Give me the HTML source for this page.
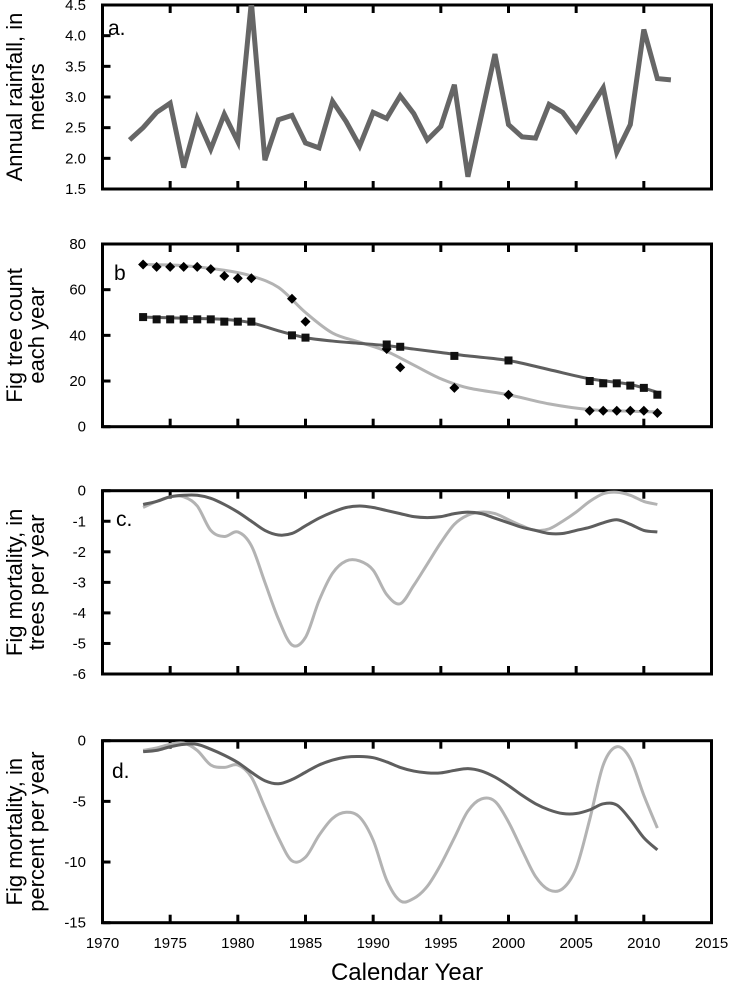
<!DOCTYPE html>
<html><head><meta charset="utf-8"><style>
body{margin:0;background:#fff;}
svg{display:block;font-family:"Liberation Sans",Arial,sans-serif;}
</style></head><body>
<svg id="chart" width="731" height="990"></svg>
<script>
const rainYears=[1972,1973,1974,1975,1976,1977,1978,1979,1980,1981,1982,1983,1984,1985,1986,1987,1988,1989,1990,1991,1992,1993,1994,1995,1996,1997,1998,1999,2000,2001,2002,2003,2004,2005,2006,2007,2008,2009,2010,2011,2012];
const rainValues=[2.3,2.5,2.75,2.9,1.85,2.65,2.15,2.72,2.27,4.55,1.97,2.63,2.7,2.25,2.17,2.93,2.6,2.2,2.75,2.65,3.02,2.73,2.3,2.52,3.2,1.7,2.7,3.7,2.55,2.35,2.33,2.88,2.75,2.45,2.8,3.15,2.1,2.55,4.1,3.3,3.28];
const countYears=[1973,1974,1975,1976,1977,1978,1979,1980,1981,1984,1985,1991,1992,1996,2000,2006,2007,2008,2009,2010,2011];
const diamondCounts=[71,70,70,70,70,69,66,65,65,56,46,34,26,17,14,7,7,7,7,7,6];
const squareCounts=[48,47,47,47,47,47,46,46,46,40,39,36,35,31,29,20,19,19,18,17,14];
const fitYears=[1973,1976,1979,1981,1983,1985,1987,1989,1991,1993,1995,1997,2000,2003,2006,2009,2011];
const diamondFit=[71,70.5,68.5,66,61,50,41,37,33,27,21,17,14,10,7.5,6.8,6.5];
const squareFit=[48,47.5,47,45.5,42,39,37.5,36.5,35.5,34,32.5,31,29,25,21,18.5,15];
const smoothYears=[1973,1974,1975,1976,1977,1978,1979,1980,1981,1982,1983,1984,1985,1986,1987,1988,1989,1990,1991,1992,1993,1994,1995,1996,1997,1998,1999,2000,2001,2002,2003,2004,2005,2006,2007,2008,2009,2010,2011];
const mortTreesDark=[-0.45,-0.35,-0.2,-0.15,-0.15,-0.25,-0.45,-0.7,-1.0,-1.3,-1.45,-1.4,-1.15,-0.9,-0.7,-0.55,-0.5,-0.55,-0.65,-0.75,-0.85,-0.88,-0.85,-0.75,-0.7,-0.75,-0.9,-1.05,-1.2,-1.3,-1.4,-1.4,-1.3,-1.2,-1.05,-0.95,-1.1,-1.3,-1.35];
const mortTreesLight=[-0.55,-0.35,-0.2,-0.2,-0.5,-1.3,-1.5,-1.35,-1.8,-3.0,-4.2,-5.05,-4.8,-3.6,-2.7,-2.3,-2.3,-2.6,-3.4,-3.7,-3.1,-2.4,-1.7,-1.1,-0.8,-0.7,-0.75,-0.95,-1.15,-1.3,-1.25,-1.0,-0.7,-0.35,-0.1,-0.05,-0.15,-0.35,-0.45];
const mortPctDark=[-0.9,-0.8,-0.5,-0.3,-0.3,-0.7,-1.2,-1.8,-2.6,-3.3,-3.55,-3.2,-2.6,-2.0,-1.6,-1.35,-1.3,-1.4,-1.75,-2.2,-2.5,-2.65,-2.65,-2.45,-2.3,-2.5,-3.0,-3.7,-4.5,-5.2,-5.7,-6.0,-6.0,-5.7,-5.2,-5.3,-6.5,-8.0,-9.0];
const mortPctLight=[-0.8,-0.6,-0.3,-0.2,-0.8,-2.0,-2.2,-2.0,-3.0,-5.5,-8.0,-9.9,-9.6,-7.8,-6.4,-5.9,-6.3,-8.2,-11.5,-13.2,-13.0,-12.0,-10.2,-8.0,-5.8,-4.8,-5.0,-6.7,-9.0,-11.2,-12.3,-12.2,-10.5,-6.5,-2.0,-0.5,-1.5,-4.5,-7.2];
const xTicks=[1970,1975,1980,1985,1990,1995,2000,2005,2010,2015];

const NS="http://www.w3.org/2000/svg";
const svg=document.getElementById('chart');
const X0=102.5,X1=711.5;
function sx(y){return X0+(y-1970)/45*(X1-X0);}
function mk(tag,attrs,parent){const e=document.createElementNS(NS,tag);for(const k in attrs)e.setAttribute(k,attrs[k]);(parent||svg).appendChild(e);return e;}
function smoothPath(xs,ys){let d='M'+xs[0]+','+ys[0];for(let i=0;i<xs.length-1;i++){const x0=xs[i-1]??xs[i],y0=ys[i-1]??ys[i],x3=xs[i+2]??xs[i+1],y3=ys[i+2]??ys[i+1];
const c1x=xs[i]+(xs[i+1]-x0)/6,c1y=ys[i]+(ys[i+1]-y0)/6,c2x=xs[i+1]-(x3-xs[i])/6,c2y=ys[i+1]-(y3-ys[i])/6;d+=` C${c1x},${c1y} ${c2x},${c2y} ${xs[i+1]},${ys[i+1]}`;}return d;}

function panel(name,top,bottom,ymin,ymax,yticks,tickFmt,letter,lx,ly,title1,title2){
  const g=mk('g',{});
  
  
  const sy=v=>bottom-(v-ymin)/(ymax-ymin)*(bottom-top);
  const f=mk('rect',{x:X0,y:top,width:X1-X0,height:bottom-top,fill:'none',stroke:'#000','stroke-width':3},g);
  
  
  xTicks.slice(1,-1).forEach(t=>{
    mk('line',{x1:sx(t),x2:sx(t),y1:bottom,y2:bottom-8,stroke:'#000','stroke-width':3},g);
    mk('line',{x1:sx(t),x2:sx(t),y1:top,y2:top+8,stroke:'#000','stroke-width':3},g);
  });
  yticks.forEach(t=>{
    mk('line',{x1:X0,x2:X0+8,y1:sy(t),y2:sy(t),stroke:'#000','stroke-width':3},g);
    const tx=mk('text',{x:86,y:sy(t)+5,'text-anchor':'end','font-size':15,fill:'#000'},g);
    tx.textContent=tickFmt(t);
    
    
  });
  const L=mk('text',{x:lx,y:ly,'font-size':21,fill:'#000'},g);L.textContent=letter;
  
  
  const cy=(top+bottom)/2;
  const T=mk('text',{transform:`translate(0,${cy}) rotate(-90)`,'text-anchor':'middle','font-size':22,fill:'#000'},g);
  
  
  const t1=mk('tspan',{x:0,y:22},T);t1.textContent=title1;
  const t2=mk('tspan',{x:0,y:44},T);t2.textContent=title2;
  return {g,sy};
}

// Panel a
const pa=panel('panel-a-rainfall',5,189,1.5,4.5,[1.5,2,2.5,3,3.5,4,4.5],v=>v.toFixed(1),'a.',108,35,'Annual rainfall, in','meters');
const clip=mk('clipPath',{id:'ca'});mk('rect',{x:X0,y:5,width:X1-X0,height:184},clip);
const la=mk('polyline',{points:rainYears.map((y,i)=>sx(y)+','+pa.sy(rainValues[i])).join(' '),fill:'none',stroke:'#666','stroke-width':5,'stroke-linejoin':'miter','clip-path':'url(#ca)'},pa.g);



// Panel b
const pb=panel('panel-b-tree-count',244,426.7,0,80,[0,20,40,60,80],v=>String(v),'b',114,280,'Fig tree count','each year');
const lb1=mk('path',{d:smoothPath(fitYears.map(sx),diamondFit.map(pb.sy)),fill:'none',stroke:'#b3b3b3','stroke-width':3},pb.g);


const lb2=mk('path',{d:smoothPath(fitYears.map(sx),squareFit.map(pb.sy)),fill:'none',stroke:'#5e5e5e','stroke-width':3},pb.g);


countYears.forEach((y,i)=>{
  const x=sx(y),yd=pb.sy(diamondCounts[i]),ys=pb.sy(squareCounts[i]);
  const d=mk('polygon',{points:`${x},${yd-5} ${x+5},${yd} ${x},${yd+5} ${x-5},${yd}`,fill:'#000'},pb.g);
  
  
  const s=mk('rect',{x:x-4,y:ys-4,width:8,height:8,fill:'#111'},pb.g);
  
  
});

// Panel c
const pc=panel('panel-c-mortality-trees',490.7,674,-6,0,[0,-1,-2,-3,-4,-5,-6],v=>String(v),'c.',116,526,'Fig mortality, in','trees per year');
[[mortTreesLight,'#b3b3b3','light'],[mortTreesDark,'#5e5e5e','dark']].forEach(([arr,c,n])=>{
  const p=mk('path',{d:smoothPath(smoothYears.map(sx),arr.map(pc.sy)),fill:'none',stroke:c,'stroke-width':3},pc.g);
  
  
});

// Panel d
const pd=panel('panel-d-mortality-percent',740.7,922.7,-15,0,[0,-5,-10,-15],v=>String(v),'d.',112,778,'Fig mortality, in','percent per year');
[[mortPctLight,'#b3b3b3','light'],[mortPctDark,'#5e5e5e','dark']].forEach(([arr,c,n])=>{
  const p=mk('path',{d:smoothPath(smoothYears.map(sx),arr.map(pd.sy)),fill:'none',stroke:c,'stroke-width':3},pd.g);
  
  
});

xTicks.forEach(t=>{
  const tx=mk('text',{x:sx(t),y:948,'text-anchor':'middle','font-size':15,fill:'#000'});
  tx.textContent=String(t);
  
  
});
const xt=mk('text',{x:sx(1992.5),y:980,'text-anchor':'middle','font-size':24,fill:'#000'});
xt.textContent='Calendar Year';


</script>
</body></html>
